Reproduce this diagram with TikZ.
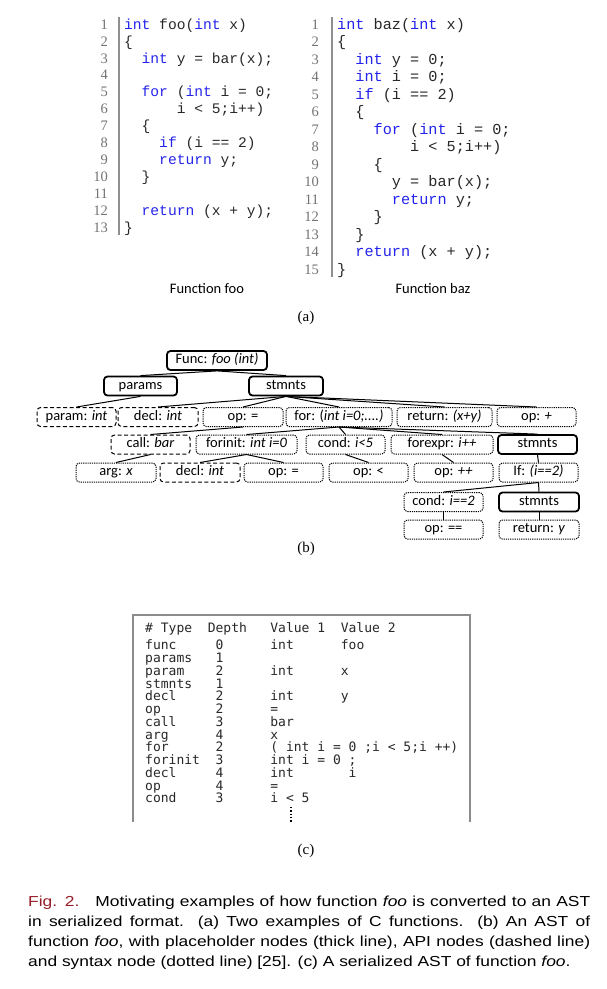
\documentclass[tikz,border=0pt]{standalone}
\usepackage{fontspec}
\setmainfont{Liberation Serif}
\setsansfont{Liberation Sans}
\setmonofont{Liberation Mono}
\newfontfamily\treefont{Carlito}
\newfontfamily\tablefont{DejaVu Sans Mono}
\newfontfamily\capfont[FakeStretch=1.2]{Liberation Sans}
\usepackage{xcolor}
\usetikzlibrary{positioning}

\definecolor{kwblue}{RGB}{35,35,235}
\definecolor{codegray}{RGB}{40,40,40}
\definecolor{numgray}{RGB}{115,115,115}
\definecolor{framegray}{RGB}{140,140,140}
\definecolor{figred}{RGB}{150,30,40}

\newcommand{\kw}[1]{\textcolor{kwblue}{#1}}
\newcommand{\ind}[1]{\hspace*{#1\fontdimen2\font}}
\newlength{\cw}
\setlength{\cw}{7.826pt}
% one row of the serialized table
\newcommand{\trow}[4]{\makebox[8\cw][l]{#1}\makebox[8\cw][l]{#2}\makebox[9\cw][l]{#3}#4}

\begin{document}
\begin{tikzpicture}[x=1pt, y=-1pt,
  tnode/.style={rounded corners=3.5pt, minimum height=19pt, inner sep=1pt, text height=9.5pt, text depth=3pt, font={\treefont\fontsize{14.5}{16}\selectfont}},
  holder/.style={tnode, draw, line width=1.8pt},
  apinode/.style={tnode, draw, line width=1pt, dash pattern=on 4pt off 2.5pt},
  synnode/.style={tnode, draw, line width=1pt, dash pattern=on 1.2pt off 1pt},
  edge/.style={line width=1pt},
  lnum/.style={inner sep=0pt, text=numgray, font={\rmfamily\fontsize{14.5}{#1}\selectfont}},
  code/.style={inner sep=0pt, text=codegray, font={\ttfamily\fontsize{14.6}{#1}\selectfont}},
  sub/.style={inner sep=0pt, font={\rmfamily\fontsize{15}{18}\selectfont}},
  fname/.style={inner sep=0pt, font={\treefont\fontsize{14.5}{16}\selectfont}},
  bar/.style={draw=numgray!80, line width=1.4pt}
]
\useasboundingbox (0,0) rectangle (606,989);

% (a) the two C functions
\node[lnum=16.9, anchor=north east] (foonum) at (108,17.2) {\begin{tabular}{@{}r@{}}
1\\2\\3\\4\\5\\6\\7\\8\\9\\10\\11\\12\\13\end{tabular}};
\node[code=16.9, anchor=north west] (foocode) at (124,17.2) {\begin{tabular}{@{}l@{}}
\kw{int} foo(\kw{int} x)\\
\{\\
\ind{2}\kw{int} y = bar(x);\\
\\
\ind{2}\kw{for} (\kw{int} i = 0;\\
\ind{6}i < 5;i++)\\
\ind{2}\{\\
\ind{4}\kw{if} (i == 2)\\
\ind{4}\kw{return} y;\\
\ind{2}\}\\
\\
\ind{2}\kw{return} (x + y);\\
\}\end{tabular}};
\draw[bar] (119,17) -- (119,235);

\node[lnum=17.5, anchor=north east] (baznum) at (319,16.8) {\begin{tabular}{@{}r@{}}
1\\2\\3\\4\\5\\6\\7\\8\\9\\10\\11\\12\\13\\14\\15\end{tabular}};
\node[code=17.5, anchor=north west, font={\ttfamily\fontsize{15.2}{17.5}\selectfont}] (bazcode) at (337,16.8) {\begin{tabular}{@{}l@{}}
\kw{int} baz(\kw{int} x)\\
\{\\
\ind{2}\kw{int} y = 0;\\
\ind{2}\kw{int} i = 0;\\
\ind{2}\kw{if} (i == 2)\\
\ind{2}\{\\
\ind{4}\kw{for} (\kw{int} i = 0;\\
\ind{8}i < 5;i++)\\
\ind{4}\{\\
\ind{6}y = bar(x);\\
\ind{6}\kw{return} y;\\
\ind{4}\}\\
\ind{2}\}\\
\ind{2}\kw{return} (x + y);\\
\}\end{tabular}};
\draw[bar] (332,17) -- (332,277);

\node[fname] (foolabel) at (207,289) {Function foo};
\node[fname] (bazlabel) at (433,289) {Function baz};
\node[sub] (suba) at (306,318) {(a)};

% (b) AST of foo
\node[holder, minimum width=100pt] (func) at (217,360.5) {Func: \textit{foo (int)}};
\node[holder, minimum width=73pt] (params) at (140.5,386) {params};
\node[holder, minimum width=74pt] (stmnts) at (286,386) {stmnts};

\node[apinode, minimum width=79pt] (param) at (76.5,417) {param: \textit{int}};
\node[apinode, minimum width=80pt] (decl) at (158,417) {decl: \textit{int}};
\node[synnode, minimum width=80pt] (assign) at (243,417) {op: =};
\node[synnode, minimum width=106pt] (for) at (339,417) {for: (\textit{int i=0;....)}};
\node[synnode, minimum width=95pt] (ret) at (444.5,417) {return: \textit{(x+y)}};
\node[synnode, minimum width=79pt] (plus) at (536.5,417) {op: \textit{+}};

\node[apinode, minimum width=79pt] (call) at (150.5,444.5) {call: \textit{bar}};
\node[synnode, minimum width=101pt] (forinit) at (246.5,444.5) {forinit: \textit{int i=0}};
\node[synnode, minimum width=79pt] (cond) at (345.5,444.5) {cond: \textit{i<5}};
\node[synnode, minimum width=102pt] (forexpr) at (442,444.5) {forexpr: \textit{i++}};
\node[holder, minimum width=79pt] (forbody) at (537.5,444.5) {stmnts};

\node[synnode, minimum width=80pt] (arg) at (116,472.5) {arg: \textit{x}};
\node[apinode, minimum width=80pt] (initdecl) at (200,472.5) {decl: \textit{int}};
\node[synnode, minimum width=79pt] (initassign) at (283.5,472.5) {op: =};
\node[synnode, minimum width=79pt] (less) at (368.5,472.5) {op: <};
\node[synnode, minimum width=79pt] (incr) at (453.5,472.5) {op: \textit{++}};
\node[synnode, minimum width=79pt] (if) at (538.5,472.5) {If: \textit{(i==2)}};

\node[synnode, minimum width=79pt] (ifcond) at (443.5,502) {cond: \textit{i==2}};
\node[holder, minimum width=80pt] (ifbody) at (539,502) {stmnts};

\node[synnode, minimum width=79pt] (equal) at (443.5,529.5) {op: ==};
\node[synnode, minimum width=80pt] (rety) at (539,529.5) {return: \textit{y}};

\draw[edge] (func.south) -- (params.north);
\draw[edge] (func.south) -- (stmnts.north);
\draw[edge] (params.south) -- (param.north);
\draw[edge] (stmnts.south) -- (decl.north);
\draw[edge] (stmnts.south) -- (assign.north);
\draw[edge] (stmnts.south) -- (for.north);
\draw[edge] (stmnts.south) -- (ret.north);
\draw[edge] (stmnts.south) -- (plus.north);
\draw[edge] (assign.south) -- (call.north);
\draw[edge] (call.south) -- (arg.north);
\draw[edge] (for.south) -- (forinit.north);
\draw[edge] (for.south) -- (cond.north);
\draw[edge] (for.south) -- (forexpr.north);
\draw[edge] (for.south) -- (forbody.north);
\draw[edge] (forinit.south) -- (initdecl.north);
\draw[edge] (forinit.south) -- (initassign.north);
\draw[edge] (cond.south) -- (less.north);
\draw[edge] (forexpr.south) -- (incr.north);
\draw[edge] (forbody.south) -- (if.north);
\draw[edge] (if.south) -- (ifcond.north);
\draw[edge] (if.south) -- (ifbody.north);
\draw[edge] (ifcond.south) -- (equal.north);
\draw[edge] (ifbody.south) -- (rety.north);

\node[sub] (subb) at (306,549) {(b)};

% (c) serialized AST
\draw[draw=framegray, line width=1.4pt] (133,822) -- (133,615) -- (470,615) -- (470,822);
\node[anchor=north west, inner sep=0pt, align=left, text=codegray, font={\tablefont\fontsize{13}{12.75}\selectfont\lineskiplimit=-100pt}] (table) at (145,622) {%
\trow{\# Type}{Depth}{Value 1}{Value 2}\\[5pt]
\trow{func}{\ind{1}0}{int}{foo}\\
\trow{params}{\ind{1}1}{}{}\\
\trow{param}{\ind{1}2}{int}{x}\\
\trow{stmnts}{\ind{1}1}{}{}\\
\trow{decl}{\ind{1}2}{int}{y}\\
\trow{op}{\ind{1}2}{=}{}\\
\trow{call}{\ind{1}3}{bar}{}\\
\trow{arg}{\ind{1}4}{x}{}\\
\trow{for}{\ind{1}2}{( int i = 0 ;i < 5;i ++)}{}\\
\trow{forinit}{\ind{1}3}{int i = 0 ;}{}\\
\trow{decl}{\ind{1}4}{int}{\ind{1}i}\\
\trow{op}{\ind{1}4}{=}{}\\
\trow{cond}{\ind{1}3}{i < 5}{}};
\draw[line width=1.3pt, dash pattern=on 1.3pt off 2pt] (291,807) -- (291,823);
\node[sub] (subc) at (306,851) {(c)};

% caption
\node[anchor=north west, inner sep=0pt, text width=562pt, align=justify, font={\capfont\fontsize{14.5}{20}\selectfont}] (caption) at (28,896) {\textcolor{figred}{Fig. 2.}\hspace*{1.1em}Motivating examples of how function \textit{foo} is converted to an AST\linebreak in serialized format. (a) Two examples of C functions. (b) An AST of\linebreak function \textit{foo}, with placeholder nodes (thick line), API nodes (dashed line)\linebreak and syntax node (dotted line) [25]. (c) A serialized AST of function \textit{foo}.};
\end{tikzpicture}
\end{document}
